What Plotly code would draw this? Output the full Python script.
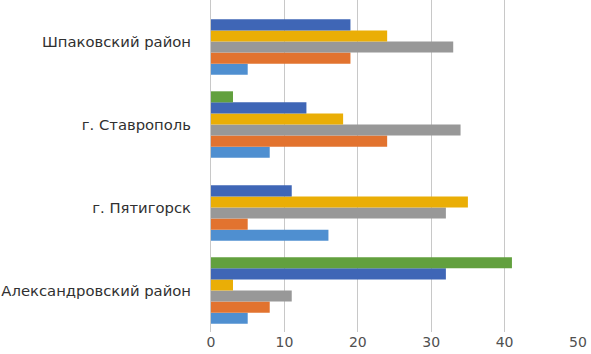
import plotly.graph_objects as go

categories = ["Александровский район", "г. Пятигорск", "г. Ставрополь", "Шпаковский район"]
series_names = ["Ряд 1", "Ряд 2", "Ряд 3", "Ряд 4", "Ряд 5", "Ряд 6"]
s1 = [5, 16, 8, 5]
s2 = [8, 5, 24, 19]
s3 = [11, 32, 34, 33]
s4 = [3, 35, 18, 24]
s5 = [32, 11, 13, 19]
s6 = [41, None, 3, None]
x_ticks = [0, 10, 20, 30, 40, 50]

colors = ["#4F8FD0", "#E2732F", "#989898", "#EAAE06", "#3F66B6", "#62A03E"]
series = [s1, s2, s3, s4, s5, s6]

fig = go.Figure()
for name, vals, c in zip(series_names, series, colors):
    fig.add_trace(go.Bar(y=categories, x=vals, name=name, orientation="h",
                         marker=dict(color=c, line=dict(width=0))))

fig.update_layout(
    width=591, height=354,
    margin=dict(l=211, r=13, t=0, b=22),
    barmode="group", bargap=0.2, bargroupgap=0,
    showlegend=False,
    plot_bgcolor="white", paper_bgcolor="white",
    font=dict(family="DejaVu Sans", size=13, color="#404040"),
)
fig.update_xaxes(range=[0, 50], tickvals=x_ticks, showgrid=True, gridcolor="#C8C8C8",
                 gridwidth=1, zeroline=False, tickfont=dict(size=14, color="#505050"),
                 showline=False, fixedrange=True)
fig.update_yaxes(type="category", categoryorder="array", categoryarray=categories,
                 showline=True, linecolor="#C8C8C8", ticks="", ticklabelstandoff=16,
                 tickfont=dict(size=14.8, color="#303030"), showgrid=False, fixedrange=True)

fig.write_html("out.html", config={"displayModeBar": False},
               post_script="document.body.style.margin='0';")
